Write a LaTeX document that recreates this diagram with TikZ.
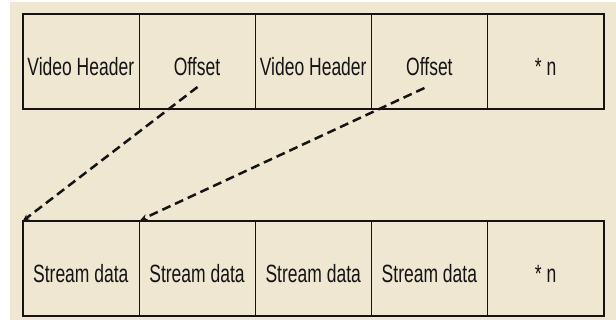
\documentclass[tikz,border=0pt]{standalone}
\usepackage{fontspec}
\newfontfamily\narrowsans[FakeStretch=0.70]{Liberation Sans}
\usetikzlibrary{positioning,arrows.meta}
\definecolor{ink}{HTML}{141414}
\definecolor{paper}{HTML}{F0E7D3}
\tikzset{
  x=1bp, y=1bp,
  %% nodes
  cell/.style   = {draw=ink, line width=0.6pt, minimum width=116.2bp,
                   minimum height=95bp, inner sep=0pt, outer sep=0pt,
                   text height=27bp, text depth=0pt,
                   text=ink, font=\narrowsans\fontsize{25bp}{27bp}\selectfont},
  %% lines
  frame/.style  = {draw=ink, line width=2.2bp},
  ptr/.style    = {-{Stealth[length=7bp,width=6bp]}, draw=ink, line width=2.5bp,
                   dash pattern=on 9bp off 5bp},
}
\begin{document}
\begin{tikzpicture}
\useasboundingbox (0,0) rectangle (616,324);
\fill[white] (0,0) rectangle (616,324);
\fill[paper] (10,4) rectangle (616,322);

%% header row
\node[cell] (vh1) at (80.8,262.5) {Video Header};
\node[cell, right=0pt of vh1] (off1) {Offset};
\node[cell, right=0pt of off1] (vh2) {Video Header};
\node[cell, right=0pt of vh2] (off2) {Offset};
\node[cell, right=0pt of off2] (hn) {* n};

%% stream row
\node[cell] (sd1) at (80.8,55.5) {Stream data};
\node[cell, right=0pt of sd1] (sd2) {Stream data};
\node[cell, right=0pt of sd2] (sd3) {Stream data};
\node[cell, right=0pt of sd3] (sd4) {Stream data};
\node[cell, right=0pt of sd4] (sn) {* n};

%% outer frames
\draw[frame] (vh1.north west) rectangle (hn.south east);
\draw[frame] (sd1.north west) rectangle (sn.south east);

%% offset pointers
\coordinate (p1) at ([xshift=0.5bp, yshift=-25.5bp]off1.center);
\coordinate (p2) at ([xshift=-5bp, yshift=-26.5bp]off2.center);
\draw[ptr] (p1) -- (sd1.north west);
\draw[ptr] (p2) -- ([xshift=1.5bp, yshift=1bp]sd2.north west);

\end{tikzpicture}
\end{document}
